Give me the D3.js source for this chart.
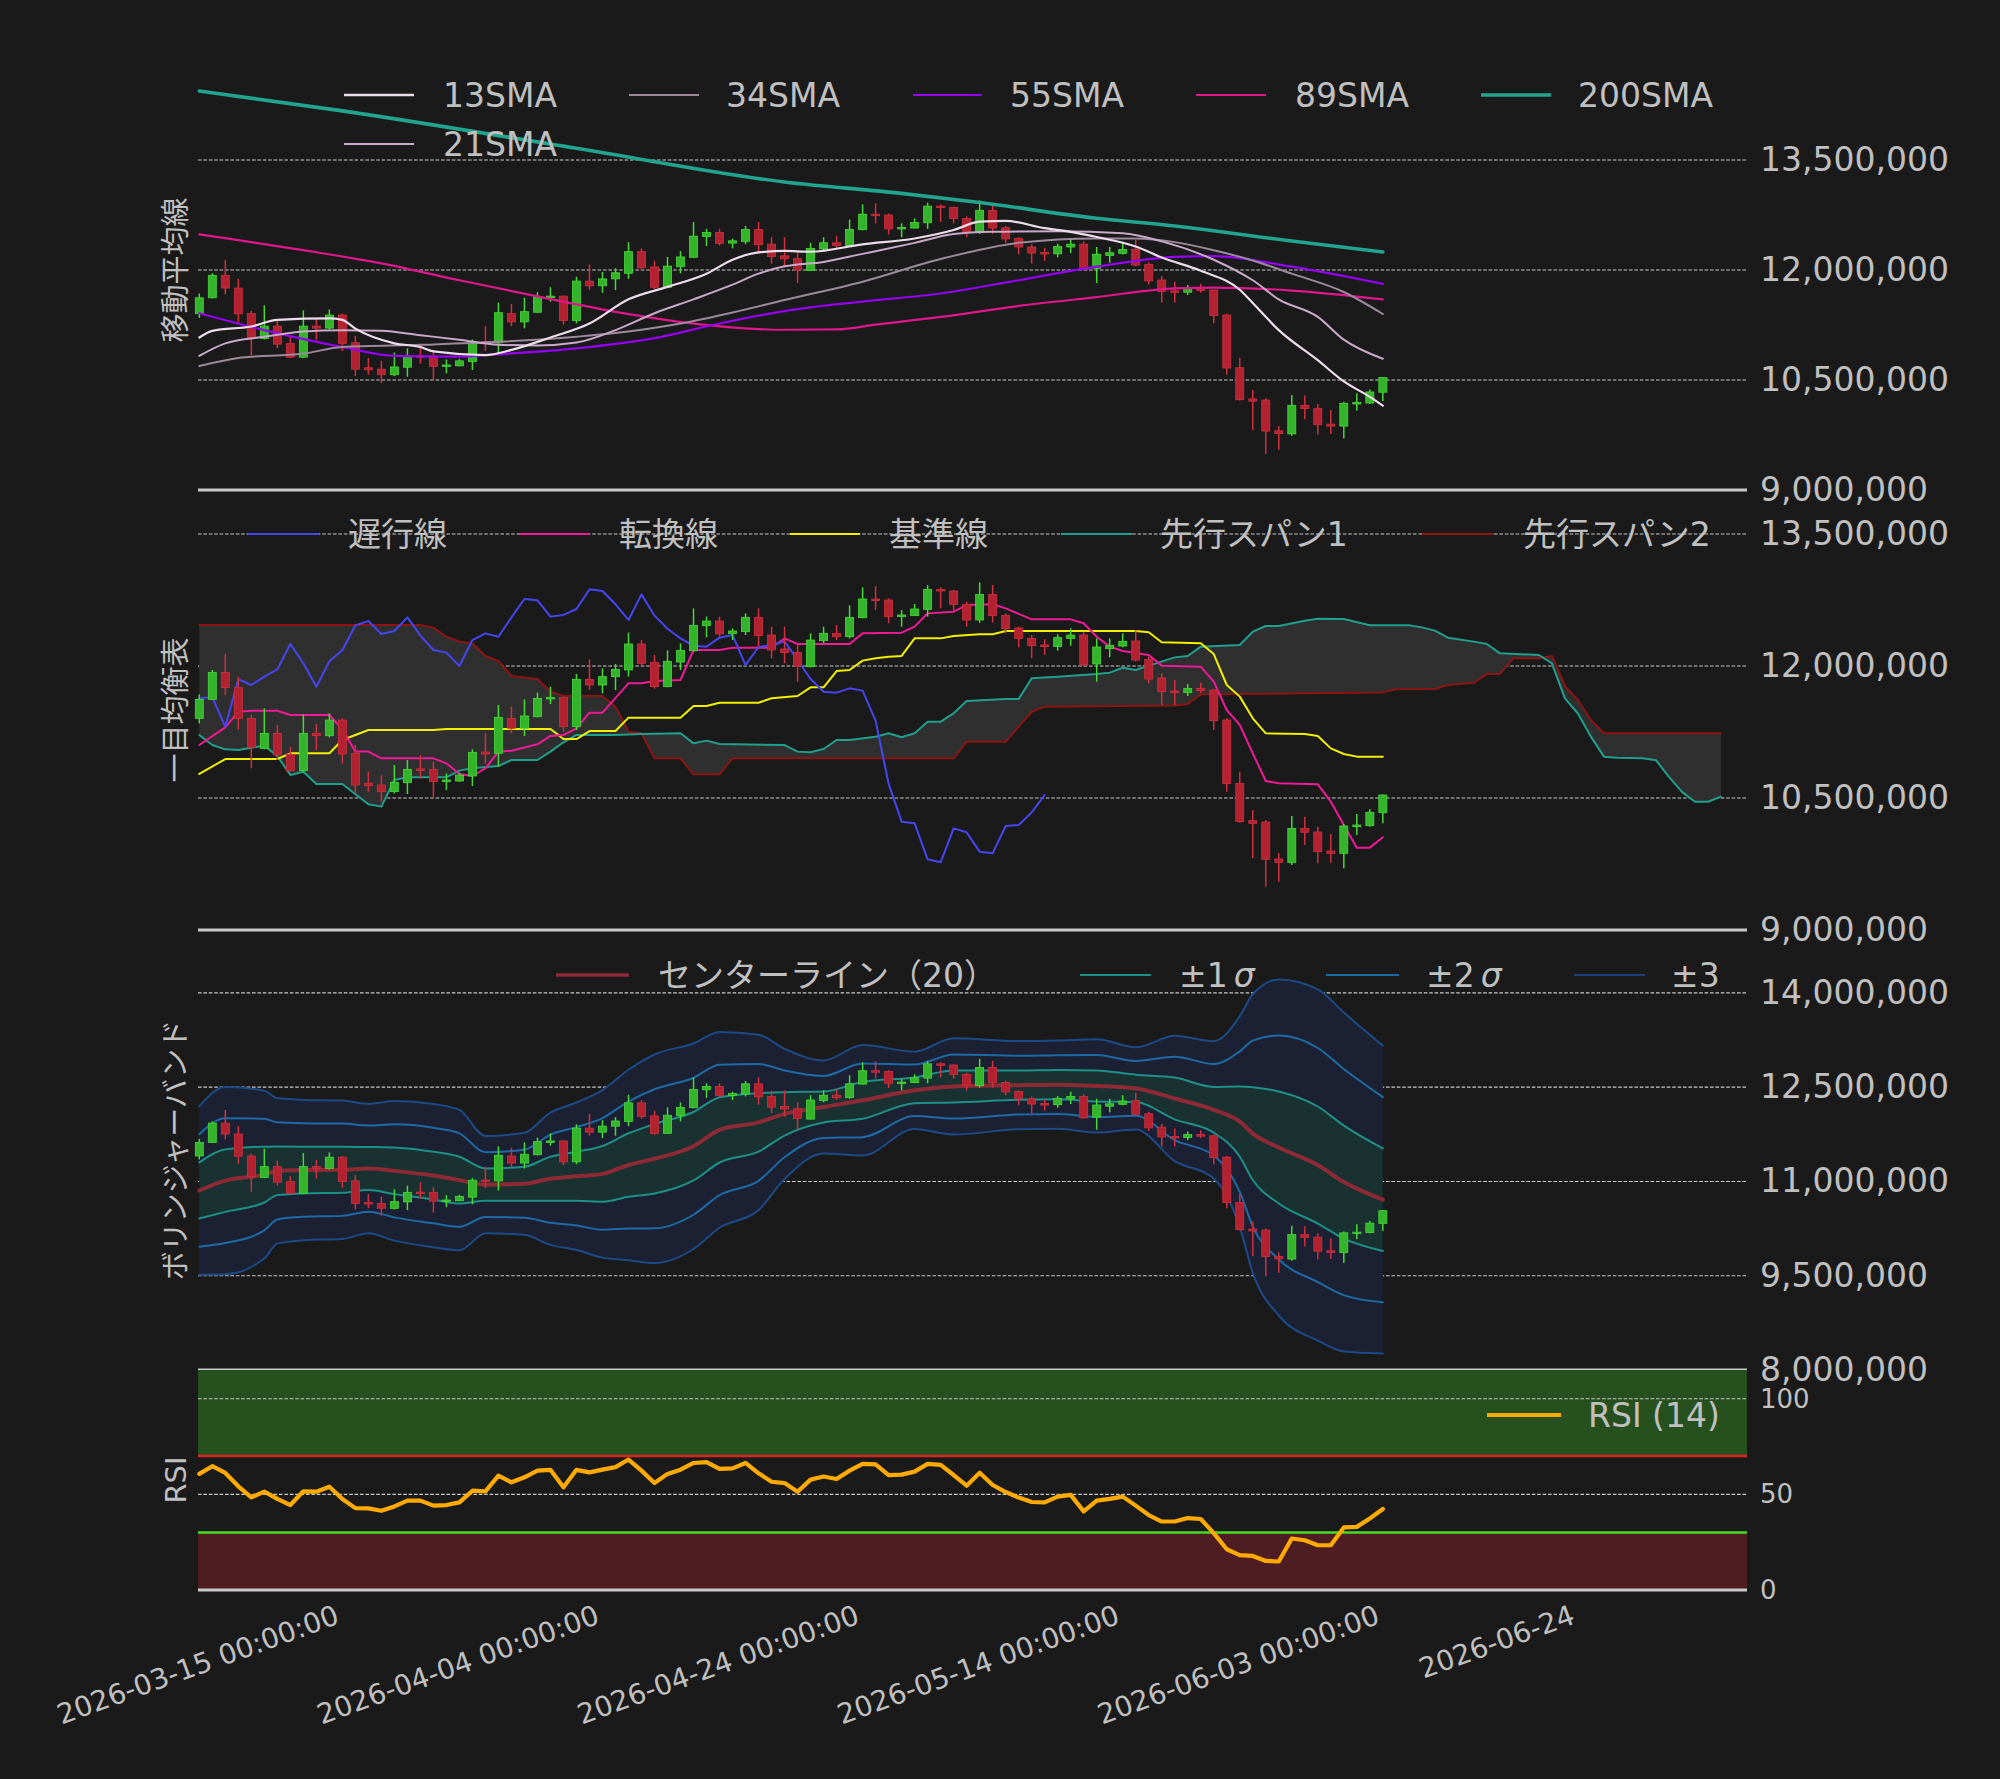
<!DOCTYPE html>
<html><head><meta charset="utf-8">
<script src="https://cdn.jsdelivr.net/npm/d3@7/dist/d3.min.js"></script>
<style>html,body{margin:0;padding:0;background:#1a1a1a;}svg{display:block;}</style>
</head><body>
<svg id="chart" width="2000" height="1779"></svg>
<script>
// ================= DATA =================
const xTickIdx = [11, 31, 51, 71, 91, 106];
const xTickLabels = ["2026-03-15 00:00:00","2026-04-04 00:00:00","2026-04-24 00:00:00","2026-05-14 00:00:00","2026-06-03 00:00:00","2026-06-24"];

const open = [11405000,11621000,11928000,11754000,11405000,11064000,11235000,10996000,10811000,11235000,
11208000,11386000,11008000,10667000,10648000,10572000,10674000,10830000,10826000,10686000,
10693000,10750000,11023000,11008000,11405000,11292000,11424000,11625000,11644000,11311000,
11849000,11784000,11879000,11955000,12250000,12042000,11765000,12045000,12174000,12458000,
12511000,12367000,12390000,12553000,12352000,12193000,12155000,11992000,12288000,12371000,
12333000,12549000,12761000,12750000,12561000,12572000,12644000,12871000,12852000,12701000,
12523000,12814000,12576000,12432000,12314000,12239000,12220000,12314000,12352000,12023000,
12197000,12227000,12284000,12076000,11864000,11716000,11697000,11746000,11727000,11386000,
10667000,10242000,10227000,9807000,9765000,10155000,10114000,9898000,9871000,10174000,
10186000,10333000];
const high = [11678000,11955000,12136000,11879000,11443000,11519000,11330000,11083000,11451000,11341000,
11462000,11405000,11102000,10799000,10761000,10875000,10932000,10989000,10913000,10780000,
10788000,11053000,11235000,11557000,11538000,11621000,11697000,11765000,11652000,11909000,
12076000,11974000,12023000,12379000,12295000,12125000,12178000,12258000,12655000,12561000,
12561000,12428000,12599000,12655000,12447000,12447000,12258000,12371000,12447000,12466000,
12689000,12894000,12909000,12769000,12636000,12705000,12920000,12894000,12864000,12731000,
12951000,12920000,12599000,12447000,12352000,12303000,12360000,12428000,12390000,12314000,
12314000,12371000,12409000,12106000,11917000,11841000,11795000,11811000,11735000,11405000,
10799000,10364000,10250000,9871000,10295000,10288000,10174000,10091000,10205000,10318000,
10371000,10540000];
const low = [11348000,11614000,11670000,11280000,10837000,11053000,10932000,10800000,10800000,11045000,
11189000,10894000,10553000,10572000,10458000,10553000,10545000,10723000,10504000,10591000,
10686000,10636000,10894000,10856000,11235000,11205000,11417000,11568000,11254000,11273000,
11727000,11689000,11727000,11879000,12000000,11742000,11758000,11955000,12163000,12326000,
12333000,12295000,12352000,12220000,12087000,12030000,11822000,11985000,12258000,12295000,
12314000,12542000,12636000,12485000,12447000,12568000,12561000,12655000,12636000,12447000,
12492000,12492000,12371000,12212000,12087000,12125000,12174000,12231000,12000000,11822000,
12099000,12212000,12049000,11803000,11557000,11557000,11659000,11689000,11273000,10572000,
10220000,9814000,9492000,9549000,9739000,9966000,9758000,9765000,9701000,10080000,
10174000,10212000];
const close = [11621000,11928000,11754000,11402000,11076000,11235000,10989000,10811000,11235000,11208000,
11386000,11000000,10648000,10640000,10572000,10678000,10826000,10822000,10686000,10705000,
10761000,11019000,11000000,11417000,11292000,11432000,11633000,11644000,11311000,11849000,
11784000,11879000,11962000,12250000,12030000,11765000,12053000,12178000,12462000,12511000,
12364000,12398000,12553000,12345000,12182000,12152000,12000000,12295000,12371000,12333000,
12553000,12761000,12746000,12561000,12580000,12648000,12871000,12852000,12701000,12523000,
12814000,12572000,12424000,12314000,12231000,12220000,12322000,12352000,12011000,12216000,
12235000,12280000,12068000,11852000,11708000,11697000,11746000,11720000,11379000,10663000,
10231000,10212000,9803000,9769000,10155000,10110000,9890000,9871000,10182000,10193000,
10337000,10534000];

// moving averages: [candle index, value]
const sma13 = [[0,11080000],[1,11170000],[4,11230000],[6,11320000],[10,11340000],[11,11320000],[12,11200000],[15,11000000],[17,10950000],[18,10890000],[22,10840000],[24,10910000],[27,11080000],[30,11270000],[33,11600000],[36,11770000],[39,11950000],[41,12140000],[43,12240000],[45,12260000],[47,12250000],[51,12350000],[55,12430000],[58,12545000],[60,12660000],[62,12670000],[65,12570000],[67,12520000],[69,12450000],[72,12320000],[74,12170000],[77,11990000],[80,11730000],[81,11550000],[83,11180000],[86,10770000],[88,10480000],[90,10270000],[91,10150000]];
const sma21 = [[0,10830000],[2,11000000],[5,11090000],[8,11160000],[11,11180000],[14,11170000],[17,11110000],[20,11050000],[23,10980000],[26,10970000],[29,11010000],[32,11180000],[35,11410000],[38,11600000],[41,11800000],[43,11950000],[45,12050000],[48,12110000],[51,12220000],[55,12370000],[58,12490000],[61,12520000],[66,12530000],[71,12500000],[74,12390000],[78,12140000],[81,11860000],[83,11600000],[86,11360000],[88,11050000],[91,10790000]];
const sma34 = [[0,10690000],[3,10800000],[8,10860000],[11,10950000],[17,10980000],[23,11020000],[29,11090000],[32,11140000],[37,11270000],[41,11420000],[45,11590000],[51,11840000],[57,12150000],[63,12370000],[69,12430000],[72,12430000],[75,12380000],[78,12270000],[81,12130000],[84,11950000],[88,11700000],[91,11400000]];
const sma55 = [[0,11410000],[5,11180000],[11,10950000],[15,10830000],[20,10820000],[22,10840000],[29,10930000],[35,11070000],[40,11270000],[45,11440000],[51,11570000],[57,11680000],[63,11860000],[69,12045000],[75,12180000],[78,12190000],[84,12045000],[91,11810000]];
const sma89 = [[0,12486000],[8,12270000],[14,12090000],[20,11860000],[26,11640000],[32,11430000],[38,11270000],[45,11185000],[49,11190000],[52,11255000],[57,11360000],[63,11510000],[69,11630000],[75,11750000],[78,11760000],[84,11720000],[91,11600000]];
const sma200 = [[0,14440000],[11,14170000],[29,13660000],[45,13200000],[54,13045000],[60,12920000],[69,12705000],[75,12600000],[84,12395000],[91,12245000]];

// ichimoku: [index, value]
const senkou1 = [[0,11216000],[1,11102000],[2,11053000],[3,11045000],[4,11072000],[5,11095000],[6,10977000],[7,10761000],[8,10799000],[9,10659000],[11,10659000],[13,10428000],[14,10402000],[15,10705000],[16,10735000],[19,10735000],[20,10811000],[21,10837000],[23,10864000],[24,10932000],[26,10932000],[27,11027000],[28,11133000],[29,11216000],[32,11216000],[34,11227000],[37,11235000],[38,11121000],[39,11152000],[40,11114000],[45,11102000],[46,11027000],[47,11019000],[48,11057000],[49,11159000],[50,11159000],[52,11197000],[53,11235000],[54,11190000],[55,11235000],[56,11367000],[57,11367000],[58,11462000],[59,11602000],[62,11625000],[63,11625000],[64,11860000],[66,11879000],[69,11909000],[70,11924000],[71,11980000],[72,11955000],[73,12004000],[75,12098000],[76,12114000],[77,12220000],[80,12239000],[81,12390000],[82,12455000],[83,12455000],[85,12515000],[86,12538000],[88,12534000],[90,12462000],[93,12462000],[94,12439000],[95,12402000],[96,12322000],[98,12277000],[99,12250000],[100,12144000],[103,12125000],[104,12030000],[105,11633000],[106,11460000],[107,11197000],[108,10970000],[109,10958000],[111,10951000],[112,10930000],[113,10740000],[114,10570000],[115,10458000],[116,10458000],[117,10515000]];
const senkou2 = [[0,12466000],[17,12466000],[18,12436000],[19,12333000],[20,12277000],[21,12258000],[22,12114000],[23,12057000],[24,11886000],[26,11852000],[27,11708000],[28,11663000],[31,11659000],[32,11538000],[33,11254000],[34,11235000],[35,10951000],[37,10951000],[38,10769000],[40,10769000],[41,10951000],[58,10951000],[59,11140000],[62,11140000],[64,11480000],[65,11538000],[75,11550000],[76,11568000],[77,11678000],[85,11689000],[91,11700000],[92,11735000],[95,11739000],[96,11784000],[98,11810000],[99,11910000],[100,11910000],[101,12087000],[103,12087000],[104,12114000],[105,11770000],[106,11614000],[107,11386000],[108,11235000],[117,11235000]];
const tenkan = [[0,11102000],[2,11303000],[3,11481000],[4,11492000],[6,11492000],[7,11443000],[10,11443000],[11,11280000],[12,11027000],[13,11027000],[14,10951000],[18,10951000],[19,10894000],[20,10773000],[21,10750000],[22,10837000],[23,11027000],[24,11038000],[26,11110000],[27,11205000],[28,11216000],[29,11292000],[30,11470000],[31,11470000],[33,11803000],[34,11803000],[35,11830000],[37,11841000],[38,12182000],[40,12182000],[41,12208000],[44,12208000],[45,12314000],[46,12250000],[50,12250000],[51,12371000],[54,12379000],[55,12447000],[56,12598000],[58,12617000],[59,12693000],[61,12701000],[62,12655000],[64,12530000],[67,12530000],[68,12485000],[69,12333000],[70,12220000],[71,12170000],[73,12125000],[74,12004000],[77,11992000],[78,11822000],[79,11500000],[80,11330000],[81,11008000],[82,10693000],[83,10667000],[86,10655000],[87,10458000],[88,10193000],[89,9936000],[90,9936000],[91,10053000]];
const kijun = [[0,10773000],[2,10943000],[6,10943000],[7,11008000],[10,11008000],[11,11159000],[13,11273000],[18,11273000],[19,11284000],[27,11284000],[28,11170000],[29,11170000],[30,11261000],[32,11261000],[33,11413000],[37,11413000],[38,11545000],[39,11545000],[40,11583000],[43,11583000],[44,11633000],[46,11659000],[47,11758000],[48,11758000],[49,11943000],[50,11955000],[51,12061000],[52,12087000],[53,12106000],[54,12114000],[55,12314000],[57,12314000],[58,12341000],[60,12360000],[61,12360000],[62,12398000],[72,12398000],[73,12383000],[74,12269000],[77,12258000],[78,12136000],[79,11784000],[80,11652000],[81,11405000],[82,11235000],[85,11227000],[86,11205000],[87,11064000],[88,11000000],[89,10970000],[91,10970000]];
// lagging span, plotted from index 0
const chikou = [11633000,11644000,11311000,11849000,11784000,11879000,11962000,12250000,12030000,11765000,
12053000,12178000,12462000,12511000,12364000,12398000,12553000,12345000,12182000,12152000,
12000000,12295000,12371000,12333000,12553000,12761000,12746000,12561000,12580000,12648000,
12871000,12852000,12701000,12523000,12814000,12572000,12424000,12314000,12231000,12220000,
12322000,12352000,12011000,12216000,12235000,12280000,12068000,11852000,11708000,11697000,
11746000,11720000,11379000,10663000,10231000,10212000,9803000,9769000,10155000,10110000,
9890000,9871000,10182000,10193000,10337000,10534000];

// Bollinger (20): index, centre line, sigma
const bbIdx = [0,2,5,6,8,11,13,15,18,20,22,25,27,29,31,33,35,38,40,43,45,48,51,55,58,63,66,69,72,75,78,80,81,83,86,88,91];
const bbMid = [10856000,11013000,11109000,11168000,11181000,11186000,11205000,11168000,11093000,11021000,10949000,10963000,11043000,11082000,11120000,11261000,11360000,11560000,11820000,11939000,12075000,12184000,12290000,12450000,12511000,12532000,12540000,12519000,12480000,12320000,12140000,11952000,11761000,11540000,11261000,10990000,10710000];
const bbSigma = [447000,497000,444000,386000,372000,367000,343000,370000,380000,372000,258000,271000,351000,391000,444000,505000,553000,545000,519000,465000,345000,247000,293000,205000,255000,234000,234000,247000,218000,332000,364000,559000,739000,891000,931000,899000,816000];
const bbMult = [1, 2, 3];

const rsi = [60.7,64.7,61.2,54.2,48.4,51.4,47.6,44.4,51.6,51.4,
54.0,47.6,42.8,42.7,41.4,43.7,46.7,46.7,44.1,44.4,
45.8,51.9,51.6,59.8,56.3,58.9,62.4,62.8,53.7,62.8,
61.5,62.9,64.2,68.2,62.4,55.9,60.7,62.9,66.4,66.8,
63.3,63.6,66.4,61.0,56.6,55.9,51.4,57.7,59.3,58.0,
62.4,65.9,65.7,60.1,60.3,61.9,65.9,65.4,60.1,54.5,
61.3,54.9,51.2,48.3,46.0,45.8,48.8,49.7,41.1,46.7,
47.6,48.8,44.1,39.2,35.8,35.8,37.6,37.1,29.7,21.3,
18.2,17.8,15.2,14.9,26.9,26.0,23.4,23.4,32.7,33.0,
37.4,42.3];

const yTicks1 = [9000000,10500000,12000000,13500000];
const yTicks2 = [9000000,10500000,12000000,13500000];
const yTicks3 = [8000000,9500000,11000000,12500000,14000000];
const yTicks4 = [0,50,100];

// ================= DRAWING =================
const W=2000,H=1779,L=198,R=1747;
const FONT="'DejaVu Sans','Noto Sans CJK JP',sans-serif";
const TXT="#c0c0c0";
const UP_F="#34b42a", UP_E="#48d83a", DN_F="#b22230", DN_E="#d0303f";
const svg=d3.select("#chart");
svg.append("rect").attr("width",W).attr("height",H).attr("fill","#1a1a1a");

const x=d3.scaleLinear().domain([-0.1,119]).range([L,R]);
const y1=d3.scaleLinear().domain([9000000,15000000]).range([490,50]);
const y2=d3.scaleLinear().domain([9000000,14000000]).range([930,490]);
const y3=d3.scaleLinear().domain([8000000,15000000]).range([1370,930]);
const y4=d3.scaleLinear().domain([0,115]).range([1590,1370]);

function grid(ys, vals){
  const g=svg.append("g");
  vals.forEach(v=>g.append("line").attr("x1",L).attr("x2",R).attr("y1",ys(v)).attr("y2",ys(v))
    .attr("stroke","#c8c8c8").attr("stroke-width",1.1).attr("stroke-dasharray","3.6,1.8"));
}
function yAxis(ys, vals, fs, fmt){
  const g=svg.append("g").attr("transform",`translate(${R},0)`)
    .call(d3.axisRight(ys).tickValues(vals).tickFormat(fmt).tickSize(0).tickPadding(13));
  g.select(".domain").remove();
  g.selectAll("text").attr("fill",TXT).attr("font-size",fs).attr("font-family",FONT);
}
function spine(yPos){
  svg.append("line").attr("x1",L).attr("x2",R).attr("y1",yPos).attr("y2",yPos)
    .attr("stroke","#c8c8c8").attr("stroke-width",3);
}
function candles(ys){
  const g=svg.append("g");
  const idx=d3.range(close.length);
  g.selectAll("line").data(idx).join("line")
    .attr("x1",i=>x(i)).attr("x2",i=>x(i))
    .attr("y1",i=>ys(high[i])).attr("y2",i=>ys(low[i]))
    .attr("stroke",i=>close[i]>=open[i]?UP_E:DN_E).attr("stroke-width",1.5);
  g.selectAll("rect").data(idx).join("rect")
    .attr("x",i=>x(i)-4).attr("width",8)
    .attr("y",i=>ys(Math.max(open[i],close[i])))
    .attr("height",i=>Math.max(1.5,Math.abs(ys(open[i])-ys(close[i]))))
    .attr("fill",i=>close[i]>=open[i]?UP_F:DN_F)
    .attr("stroke",i=>close[i]>=open[i]?UP_E:DN_E).attr("stroke-width",0.8);
}
function line(data, ys, color, w, curve){
  const gen=d3.line().x(d=>x(d[0])).y(d=>ys(d[1])).curve(curve||d3.curveLinear);
  svg.append("path").attr("d",gen(data)).attr("fill","none").attr("stroke",color)
    .attr("stroke-width",w).attr("stroke-linejoin","round").attr("stroke-linecap","round");
}
function legend(items, fs){
  const g=svg.append("g");
  items.forEach(it=>{
    g.append("line").attr("x1",it.x1).attr("x2",it.x2).attr("y1",it.y).attr("y2",it.y)
      .attr("stroke",it.c).attr("stroke-width",it.w||2);
    const t=g.append("text").attr("x",it.tx).attr("y",it.y+12).attr("fill",TXT)
      .attr("font-size",fs).attr("font-family",FONT);
    if(it.sig){
      t.append("tspan").text(it.t);
      t.append("tspan").attr("dx",6).attr("font-style","italic").text("σ");
    } else t.text(it.t);
  });
}
function ylabel(text, cy){
  svg.append("text").attr("transform",`translate(176,${cy}) rotate(-90)`)
    .attr("text-anchor","middle").attr("dominant-baseline","central")
    .attr("fill",TXT).attr("font-size",29).attr("font-family",FONT).text(text);
}
const fmtC=d3.format(",");

// ---------- Panel 1: moving averages ----------
grid(y1,[10500000,12000000,13500000]);
candles(y1);
const mono=d3.curveMonotoneX;
line(sma89,y1,"#e0168c",2.2,mono);
line(sma55,y1,"#9400f0",2.2,mono);
line(sma34,y1,"#9c8a9c",2,mono);
line(sma21,y1,"#c9a9c9",2,mono);
line(sma13,y1,"#ecdcec",2.2,mono);
line(sma200,y1,"#22a58f",3.6,mono);
spine(490);
yAxis(y1,yTicks1,33,fmtC);
legend([
  {x1:344,x2:414,tx:443,y:95,c:"#ecdcec",w:2.5,t:"13SMA"},
  {x1:344,x2:414,tx:443,y:144,c:"#c9a9c9",w:2,t:"21SMA"},
  {x1:629,x2:699,tx:726,y:95,c:"#9c8a9c",w:2,t:"34SMA"},
  {x1:913,x2:982,tx:1010,y:95,c:"#9400f0",w:2,t:"55SMA"},
  {x1:1196,x2:1266,tx:1295,y:95,c:"#e0168c",w:2,t:"89SMA"},
  {x1:1481,x2:1551,tx:1578,y:95,c:"#22a58f",w:3.5,t:"200SMA"}
],33);
ylabel("移動平均線",270);

// ---------- Panel 2: Ichimoku ----------
grid(y2,[10500000,12000000,13500000]);
const cloudPts=senkou1.concat(senkou2.slice().reverse());
svg.append("path").attr("d",d3.line().x(d=>x(d[0])).y(d=>y2(d[1]))(cloudPts)+"Z")
  .attr("fill","#2f2f2f").attr("fill-rule","nonzero");
line(senkou2,y2,"#8b1515",2);
line(senkou1,y2,"#20a08c",2);
line(kijun,y2,"#f0f000",2);
line(tenkan,y2,"#ee1a96",2);
line(chikou.map((v,i)=>[i,v]),y2,"#4646f0",2);
candles(y2);
spine(930);
yAxis(y2,yTicks2,33,fmtC);
legend([
  {x1:248,x2:319,tx:348,y:534,c:"#4646f0",t:"遅行線"},
  {x1:520,x2:589,tx:619,y:534,c:"#ee1a96",t:"転換線"},
  {x1:790,x2:860,tx:889,y:534,c:"#f0f000",t:"基準線"},
  {x1:1061,x2:1132,tx:1160,y:534,c:"#20a08c",t:"先行スパン1"},
  {x1:1422,x2:1494,tx:1523,y:534,c:"#8b1515",t:"先行スパン2"}
],33);
ylabel("一目均衡表",710);

// ---------- Panel 3: Bollinger ----------
grid(y3,[9500000,11000000,12500000,14000000]);
const bb=bbIdx.map((i,k)=>({i:i,m:bbMid[k],s:bbSigma[k]}));
const band=k=>d3.area().x(d=>x(d.i)).y0(d=>y3(d.m-k*d.s)).y1(d=>y3(d.m+k*d.s)).curve(mono);
svg.append("path").attr("d",band(bbMult[2])(bb)).attr("fill","#1b2132");
svg.append("path").attr("d",band(bbMult[0])(bb)).attr("fill","#193131");
const bandColors={1:"#1f9088",2:"#1e6aa5",3:"#1d4a86"};
bbMult.forEach(k=>{
  [1,-1].forEach(sgn=>{
    line(bb.map(d=>[d.i,d.m+sgn*k*d.s]),y3,bandColors[k],2,mono);
  });
});
line(bb.map(d=>[d.i,d.m]),y3,"#8e2a36",4,mono);
candles(y3);
spine(1370);
yAxis(y3,yTicks3,33,fmtC);
legend([
  {x1:556,x2:629,tx:658,y:975,c:"#8e2a36",w:3.5,t:"センターライン（20）"},
  {x1:1080,x2:1151,tx:1179,y:975,c:"#1f9088",t:"±1",sig:true},
  {x1:1326,x2:1399,tx:1426,y:975,c:"#1e6aa5",t:"±2",sig:true},
  {x1:1574,x2:1645,tx:1671,y:975,c:"#1d3f7a",t:"±3"}
],33);
ylabel("ボリンジャーバンド",1150);

// ---------- Panel 4: RSI ----------
svg.append("rect").attr("x",L).attr("width",R-L).attr("y",y4(115)).attr("height",y4(70)-y4(115)).attr("fill","#27501f");
svg.append("rect").attr("x",L).attr("width",R-L).attr("y",y4(30)).attr("height",y4(0)-y4(30)).attr("fill","#4d1d22");
grid(y4,[50,100]);
svg.append("line").attr("x1",L).attr("x2",R).attr("y1",y4(70)).attr("y2",y4(70)).attr("stroke","#dd2424").attr("stroke-width",2.5);
svg.append("line").attr("x1",L).attr("x2",R).attr("y1",y4(30)).attr("y2",y4(30)).attr("stroke","#44dd22").attr("stroke-width",2.5);
line(rsi.map((v,i)=>[i,v]),y4,"#ffaa00",4.2);
spine(1590);
yAxis(y4,yTicks4,26,d3.format("d"));
legend([{x1:1487,x2:1561,tx:1588,y:1415,c:"#ffaa00",w:4,t:"RSI (14)"}],33);
ylabel("RSI",1480);

// ---------- X axis ----------
const gx=svg.append("g").attr("transform","translate(0,1590)")
  .call(d3.axisBottom(x).tickValues(xTickIdx).tickFormat((d,i)=>xTickLabels[i]).tickSize(0));
gx.select(".domain").remove();
gx.selectAll("text").attr("y",0).attr("dy",0).attr("x",0)
  .attr("text-anchor","end").attr("transform","translate(-2,33) rotate(-20)")
  .attr("fill",TXT).attr("font-size",28).attr("font-family",FONT);
</script>
</body></html>
